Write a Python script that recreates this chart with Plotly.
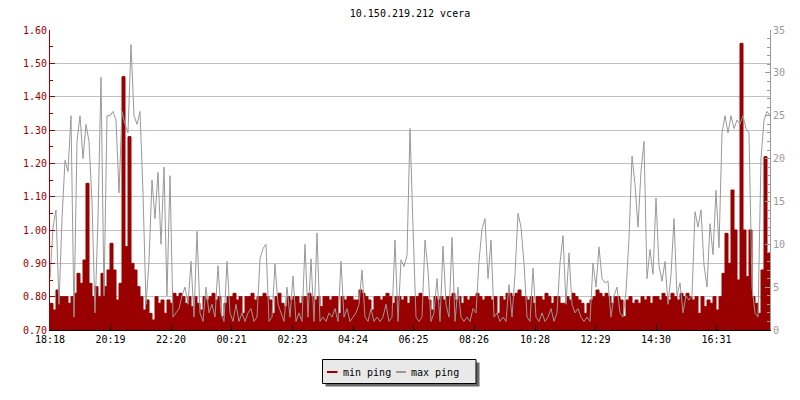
import plotly.graph_objects as go
from datetime import datetime, timedelta

# ---------------- data ----------------
start_time = datetime(2024, 5, 14, 18, 18)
step_minutes = 6

min_ping = [
    0.78, 0.76, 0.82, 0.80, 0.80, 0.80, 0.78, 0.80, 0.81, 0.87,
    0.84, 0.91, 1.14, 0.84, 0.80, 0.83, 0.80, 0.87, 0.83, 0.88,
    0.96, 0.88, 0.79, 0.84, 1.46, 0.95, 1.28, 0.90, 0.88, 0.83,
    0.80, 0.76, 0.79, 0.75, 0.73, 0.80, 0.78, 0.79, 0.75, 0.79,
    0.78, 0.81, 0.80, 0.81, 0.80, 0.78, 0.80, 0.77, 0.80, 0.78,
    0.76, 0.80, 0.79, 0.80, 0.81, 0.79, 0.80, 0.74, 0.78, 0.80,
    0.80, 0.81, 0.79, 0.80, 0.75, 0.80, 0.80, 0.81, 0.79, 0.80,
    0.80, 0.81, 0.80, 0.79, 0.75, 0.80, 0.81, 0.78, 0.77, 0.80,
    0.79, 0.80, 0.80, 0.78, 0.80, 0.80, 0.81, 0.80, 0.79, 0.80,
    0.77, 0.80, 0.80, 0.79, 0.80, 0.80, 0.75, 0.80, 0.79, 0.80,
    0.80, 0.79, 0.79, 0.82, 0.81, 0.80, 0.79, 0.76, 0.80, 0.80,
    0.79, 0.80, 0.81, 0.80, 0.78, 0.80, 0.80, 0.79, 0.80, 0.78,
    0.80, 0.80, 0.80, 0.81, 0.80, 0.80, 0.79, 0.76, 0.80, 0.79,
    0.80, 0.79, 0.80, 0.80, 0.81, 0.79, 0.80, 0.78, 0.80, 0.79,
    0.80, 0.80, 0.81, 0.80, 0.79, 0.80, 0.80, 0.79, 0.80, 0.75,
    0.80, 0.79, 0.81, 0.81, 0.80, 0.81, 0.82, 0.80, 0.80, 0.79,
    0.80, 0.78, 0.80, 0.80, 0.79, 0.81, 0.80, 0.78, 0.80, 0.80,
    0.78, 0.78, 0.80, 0.79, 0.81, 0.80, 0.79, 0.78, 0.75, 0.78,
    0.79, 0.80, 0.82, 0.81, 0.80, 0.81, 0.80, 0.78, 0.80, 0.80,
    0.79, 0.74, 0.79, 0.80, 0.78, 0.79, 0.78, 0.80, 0.79, 0.80,
    0.78, 0.80, 0.80, 0.79, 0.81, 0.80, 0.79, 0.81, 0.80, 0.79,
    0.81, 0.80, 0.81, 0.80, 0.79, 0.80, 0.75, 0.80, 0.77, 0.79,
    0.78, 0.80, 0.76, 0.80, 0.87, 0.99, 0.90, 1.12, 1.00, 0.85,
    1.56, 1.00, 0.86, 1.00, 0.80, 0.78, 0.75, 0.88, 1.22, 0.93,
    0.93,
]

max_ping = [
    6, 12, 14, 3, 13, 19.8, 18.5, 25, 1.5, 22,
    25, 20, 24, 22, 15, 2, 13, 29.5, 4, 25,
    25, 25.5, 24.5, 16, 25.5, 24, 23, 33.3, 25, 24,
    25.5, 16, 3, 8, 17.5, 13, 18.4, 10, 19, 4,
    18, 1.5, 2, 2.5, 4, 5, 3, 8, 1.5, 11.5,
    2, 1, 5, 2, 3, 1.5, 7.5, 2, 1, 8,
    2, 1, 3, 1, 2, 1, 2, 2.5, 1, 1.5,
    8.3, 9.5, 10, 1, 1.5, 7.7, 3, 2, 1, 5,
    1.5, 6.3, 1, 2, 1, 10, 1.5, 8.3, 1, 11.3,
    1, 1.5, 1, 2, 1.5, 2.5, 1, 8, 1.5, 2.5,
    1, 1.5, 2, 3, 7, 1.5, 1, 2.5, 1, 1.5,
    1, 1.5, 3, 1, 1.5, 10.5, 1, 8.2, 7.4, 8.7,
    23.5, 12, 1.5, 1, 1.5, 10.5, 7, 1, 2, 6,
    1, 9.8, 3, 1.5, 10.8, 1, 5, 1.5, 1, 1.5,
    1, 2.5, 2, 8, 11.8, 13, 6, 10.5, 1.5, 2,
    1, 1.5, 1, 5.3, 1.5, 6.5, 13.6, 12, 7.8, 1.5,
    1, 7.2, 1.5, 1, 2, 1, 1.5, 2.5, 1, 2,
    7.8, 11, 3, 9, 3, 2, 2.5, 1.5, 1, 1.5,
    1, 7.8, 5, 9.7, 6, 5.5, 5.7, 1.5, 4, 5,
    2, 1.5, 4.5, 10.7, 20.3, 17, 12, 18.5, 22, 6,
    9.4, 6.5, 15.4, 7.5, 5.7, 8, 3, 6.4, 13, 4,
    5.5, 2, 4, 3.5, 4, 13.8, 12, 14, 7.6, 5,
    12.4, 8.8, 16.3, 9.6, 23, 25, 23, 25, 23.5, 24.5,
    24, 25, 23.5, 23, 5, 2, 1.5, 20, 24.5, 25.5,
    25,
]

tick_labels = ["18:18", "20:19", "22:20", "00:21", "02:23", "04:24",
               "06:25", "08:26", "10:28", "12:29", "14:30", "16:31"]
tick_offsets_min = [0, 121, 242, 363, 485, 606, 727, 848, 970, 1091, 1212, 1333]

series_names = ["min ping", "max ping"]
title_text = "10.150.219.212 vcera"

# ---------------- styling ----------------
RED = "#990000"
GRAY = "#999999"
FONT = "DejaVu Sans Mono"

times = [start_time + timedelta(minutes=step_minutes * i) for i in range(len(min_ping))]
tick_vals = [start_time + timedelta(minutes=m) for m in tick_offsets_min]
x_end = start_time + timedelta(minutes=1440)

fig = go.Figure()
fig.add_trace(go.Scatter(
    x=times, y=min_ping, mode="lines", name=series_names[0],
    line=dict(color=RED, width=1, shape="hv"), fill="tozeroy", fillcolor=RED,
    showlegend=False, yaxis="y"))
fig.add_trace(go.Scatter(
    x=times, y=max_ping, mode="lines", name=series_names[1],
    line=dict(color=GRAY, width=1), showlegend=False, yaxis="y2"))

# plot area in pixels: x 50..770, y 30..330
L, R, T, B = 50, 770, 30, 330


def px(x):
    return (x - L) / (R - L)


def py(y):
    return (B - y) / (B - T)


shapes = [
    dict(type="rect", xref="paper", yref="paper",
         x0=px(325.5), x1=px(479.5), y0=py(386.5), y1=py(362.5),
         fillcolor="#686868", line=dict(width=0), layer="above"),
    dict(type="rect", xref="paper", yref="paper",
         x0=px(322.5), x1=px(476), y0=py(383.5), y1=py(359.5),
         fillcolor="#e9e9e9", line=dict(color="black", width=1), layer="above"),
    dict(type="line", xref="paper", yref="paper",
         x0=px(327), x1=px(337.5), y0=py(372), y1=py(372),
         line=dict(color=RED, width=2), layer="above"),
    dict(type="line", xref="paper", yref="paper",
         x0=px(396), x1=px(406), y0=py(372), y1=py(372),
         line=dict(color=GRAY, width=2), layer="above"),
]

annotations = [
    dict(text=series_names[0], xref="paper", yref="paper", x=px(340.5), y=py(372),
         xanchor="left", yanchor="middle", showarrow=False,
         font=dict(family=FONT, size=10, color="black")),
    dict(text=series_names[1], xref="paper", yref="paper", x=px(409), y=py(372),
         xanchor="left", yanchor="middle", showarrow=False,
         font=dict(family=FONT, size=10, color="black")),
]

fig.update_layout(
    width=800, height=400, autosize=False,
    margin=dict(l=L, r=800 - R, t=T, b=400 - B),
    paper_bgcolor="white", plot_bgcolor="white",
    font=dict(family=FONT, size=10, color="black"),
    title=dict(text=title_text, x=0.5, xref="paper", xanchor="center",
               y=1 - 13 / 400, yref="container", yanchor="middle",
               font=dict(family=FONT, size=10, color="black")),
    showlegend=False,
    shapes=shapes, annotations=annotations,
    xaxis=dict(type="date", range=[start_time, x_end],
               tickvals=tick_vals, ticktext=tick_labels,
               ticks="inside", ticklen=5, tickcolor="black", tickwidth=1,
               showline=True, linecolor="black", linewidth=1,
               showgrid=False, zeroline=False,
               tickfont=dict(family=FONT, size=10, color="black")),
    yaxis=dict(range=[0.70, 1.60], dtick=0.1, tick0=0.7, tickformat=".2f",
               ticks="inside", ticklen=5, tickcolor=RED, tickwidth=1,
               showline=True, linecolor=RED, linewidth=1,
               showgrid=True, gridcolor="#c0c0c0", gridwidth=1, zeroline=False,
               tickfont=dict(family=FONT, size=10, color=RED),
               minor=dict(dtick=0.05, tick0=0.7, ticks="inside", ticklen=3,
                          tickcolor=RED, showgrid=False)),
    yaxis2=dict(range=[0, 35], dtick=5, tick0=0, overlaying="y", side="right",
                ticks="inside", ticklen=5, tickcolor=GRAY, tickwidth=1,
                showline=True, linecolor=GRAY, linewidth=1,
                showgrid=False, zeroline=False,
                tickfont=dict(family=FONT, size=10, color=GRAY),
                minor=dict(dtick=1, ticks="inside", ticklen=3,
                           tickcolor=GRAY, showgrid=False)),
)

fig.write_html(
    "out.html",
    config={"displayModeBar": False},
    post_script="document.body.style.margin='0';document.body.style.padding='0';",
)
